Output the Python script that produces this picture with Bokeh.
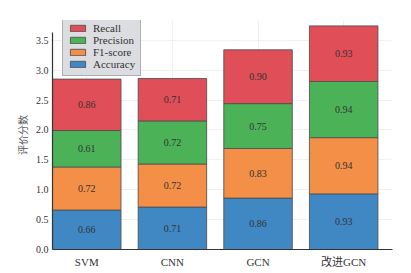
import math
from bokeh.plotting import figure
from bokeh.models import (ColumnDataSource, Legend, LegendItem, Range1d, FixedTicker,
                          SingleIntervalTicker, CustomJSTickFormatter)
from bokeh.core.properties import value
from bokeh.embed import file_html
from bokeh.resources import INLINE

models = ["SVM", "CNN", "GCN", "改进GCN"]
accuracy = [0.66, 0.71, 0.86, 0.93]
f1_score = [0.72, 0.72, 0.83, 0.94]
precision = [0.61, 0.72, 0.75, 0.94]
recall = [0.86, 0.71, 0.90, 0.93]

series_names = ["Accuracy", "F1-score", "Precision", "Recall"]
series_vals = [accuracy, f1_score, precision, recall]
colors = ["#3f88c4", "#f48f48", "#4cb258", "#e04e58"]

SERIF = "Liberation Serif, Noto Sans CJK SC"
TXT = "#333333"

xs = list(range(len(models)))
data = {"x": xs}
for n, v in zip(series_names, series_vals):
    data[n] = v
src = ColumnDataSource(data)

p = figure(width=405, height=270, output_backend="svg", toolbar_location=None,
           x_range=Range1d(-0.4, 3.57), y_range=Range1d(0, 3.83),
           min_border_left=52, min_border_right=13, min_border_top=20, min_border_bottom=20)
p.outline_line_color = None
p.background_fill_color = "white"

renderers = p.vbar_stack(series_names, x="x", width=0.8, source=src, color=colors,
                         line_color="#505050", line_width=1, line_alpha=0.85)

# value labels at segment centres
lx, ly, lt = [], [], []
for i in xs:
    base = 0.0
    for v in series_vals:
        val = v[i]
        lx.append(i)
        ly.append(base + val / 2)
        lt.append(f"{val:.2f}")
        base += val
p.text(x=lx, y=ly, text=lt, text_align="center", text_baseline="middle",
       text_font=value("Liberation Serif"), text_font_size="10px", text_color=TXT)

# axes
p.xaxis.ticker = FixedTicker(ticks=xs)
p.xaxis.major_label_overrides = {i: m for i, m in enumerate(models)}
p.xaxis.major_label_text_font = SERIF
p.xaxis.major_label_text_font_size = "11px"
p.xaxis.major_label_text_color = TXT
p.xaxis.major_label_standoff = 6
p.xaxis.major_tick_out = 0
p.xaxis.major_tick_in = 0
p.xaxis.minor_tick_out = 0
p.xaxis.minor_tick_in = 0
p.xaxis.axis_line_color = "#333333"
p.xaxis.axis_line_width = 1.2

p.yaxis.ticker = SingleIntervalTicker(interval=0.5)
p.yaxis.bounds = (0, 3.63)
p.yaxis.formatter = CustomJSTickFormatter(code="return tick.toFixed(1);")
p.yaxis.major_label_text_font = SERIF
p.yaxis.major_label_text_font_size = "10px"
p.yaxis.major_label_text_color = TXT
p.yaxis.major_label_standoff = 4
p.yaxis.major_tick_out = 0
p.yaxis.major_tick_in = 0
p.yaxis.minor_tick_out = 0
p.yaxis.minor_tick_in = 0
p.yaxis.axis_line_color = "#333333"
p.yaxis.axis_line_width = 1.2
p.yaxis.axis_label = "评价分数"
p.yaxis.axis_label_text_font = "Noto Sans CJK SC"
p.yaxis.axis_label_text_font_size = "10px"
p.yaxis.axis_label_text_font_style = "normal"
p.yaxis.axis_label_text_color = "#555555"
p.yaxis.axis_label_standoff = 3

p.xgrid.grid_line_color = "#efefef"
p.ygrid.grid_line_color = "#efefef"
p.grid.level = "underlay"

items = [LegendItem(label=n, renderers=[r]) for n, r in zip(series_names, renderers)][::-1]
legend = Legend(items=items, location=(10, 173), orientation="vertical",
                background_fill_color="#dcdde1", background_fill_alpha=1.0,
                border_line_color="#808080", border_line_width=1,
                label_text_font="Liberation Serif", label_text_font_size="11px",
                label_text_line_height=1.0,
                label_text_color=TXT, glyph_width=19, glyph_height=8, label_height=8,
                label_standoff=6, spacing=0, padding=5, margin=0)
p.add_layout(legend, "center")

open("out.html", "w").write(file_html(p, INLINE))
